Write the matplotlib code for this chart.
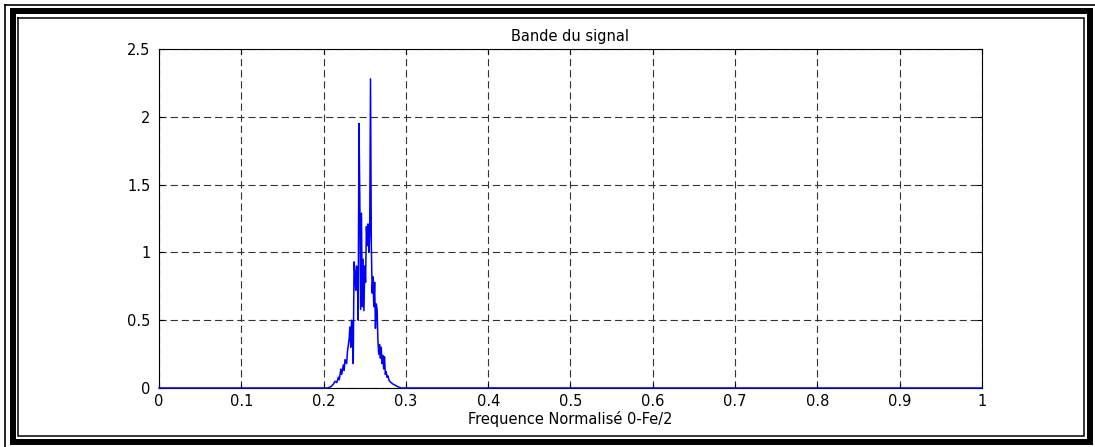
import matplotlib
matplotlib.use("Agg")
import matplotlib.pyplot as plt
from matplotlib.lines import Line2D

plt.rcParams['font.family'] = ['DejaVu Sans']

title = "Bande du signal"
xlabel = "Frequence Normalisé 0-Fe/2"
xticks = [0, 0.1, 0.2, 0.3, 0.4, 0.5, 0.6, 0.7, 0.8, 0.9, 1]
xtick_labels = ["0", "0.1", "0.2", "0.3", "0.4", "0.5", "0.6", "0.7", "0.8", "0.9", "1"]
yticks = [0, 0.5, 1, 1.5, 2, 2.5]
ytick_labels = ["0", "0.5", "1", "1.5", "2", "2.5"]

freq = [0.0, 0.205, 0.209, 0.212, 0.214, 0.216, 0.218, 0.219, 0.221, 0.222,
        0.224, 0.225, 0.226, 0.228, 0.229, 0.231, 0.232, 0.233, 0.234, 0.235,
        0.236, 0.237, 0.238, 0.239, 0.240, 0.241, 0.242, 0.243, 0.244, 0.245,
        0.246, 0.247, 0.248, 0.249, 0.250, 0.251, 0.252, 0.253, 0.254, 0.255,
        0.256, 0.257, 0.258, 0.259, 0.260, 0.261, 0.262, 0.263, 0.264, 0.265,
        0.266, 0.267, 0.268, 0.269, 0.270, 0.271, 0.272, 0.273, 0.274, 0.275,
        0.276, 0.277, 0.278, 0.280, 0.282, 0.284, 0.287, 0.290, 0.294, 1.0]
amp = [0.0, 0.0, 0.01, 0.03, 0.05, 0.04, 0.08, 0.06, 0.14, 0.10,
       0.17, 0.13, 0.21, 0.18, 0.27, 0.36, 0.45, 0.30, 0.50, 0.42,
       0.18, 0.93, 0.85, 0.72, 0.90, 0.87, 0.50, 1.95, 1.40, 0.58,
       1.29, 0.60, 0.95, 0.57, 0.90, 0.78, 1.19, 1.05, 1.21, 1.00,
       1.12, 2.28, 1.05, 0.70, 0.82, 0.60, 0.78, 0.44, 0.62, 0.58,
       0.35, 0.25, 0.32, 0.22, 0.30, 0.18, 0.24, 0.14, 0.23, 0.10,
       0.12, 0.08, 0.09, 0.05, 0.04, 0.03, 0.02, 0.01, 0.0, 0.0]

W, H = 1095, 447
fig = plt.figure(figsize=(W / 100, H / 100), dpi=100)

def frame_line(xs, ys, lw):
    fx = [x / W for x in xs]
    fy = [1 - y / H for y in ys]
    fig.add_artist(Line2D(fx, fy, lw=lw, color='black', transform=fig.transFigure,
                          solid_capstyle='projecting', solid_joinstyle='miter'))

# outer thin lines (top and left)
frame_line([5, W + 5], [4.5, 4.5], 1.2)
frame_line([5, 5], [4.5, H + 5], 1.2)
# thick frame
frame_line([12.5, 1089.5, 1089.5, 12.5, 12.5], [11, 11, 442, 442, 11], 4.3)
# inner thin frame
frame_line([18, 1084, 1084, 18, 18], [17.5, 17.5, 436, 436, 17.5], 1.1)

left, right, top, bottom = 159, 982, 49, 388
ax = fig.add_axes([left / W, 1 - bottom / H, (right - left) / W, (bottom - top) / H])
ax.plot(freq, amp, color='#0000ff', lw=1.1, clip_on=False, zorder=3)
ax.set_xlim(0, 1)
ax.set_ylim(0, 2.5)
ax.set_xticks(xticks)
ax.set_xticklabels(xtick_labels)
ax.set_yticks(yticks)
ax.set_yticklabels(ytick_labels)
ax.tick_params(direction='in', length=3.5, width=0.8, top=True, right=True,
               labelsize=10.5, colors='black')
ax.tick_params(axis='x', pad=4)
ax.tick_params(axis='y', pad=6)
ax.grid(True, color='#333333', linestyle=(0, (6.5, 3.5)), lw=0.8)
for s in ax.spines.values():
    s.set_linewidth(0.8)
    s.set_color('black')
ax.set_title(title, fontsize=10.5, pad=6)
ax.set_xlabel(xlabel, fontsize=10.5, labelpad=1.5)

fig.savefig("out.png", dpi=100)
